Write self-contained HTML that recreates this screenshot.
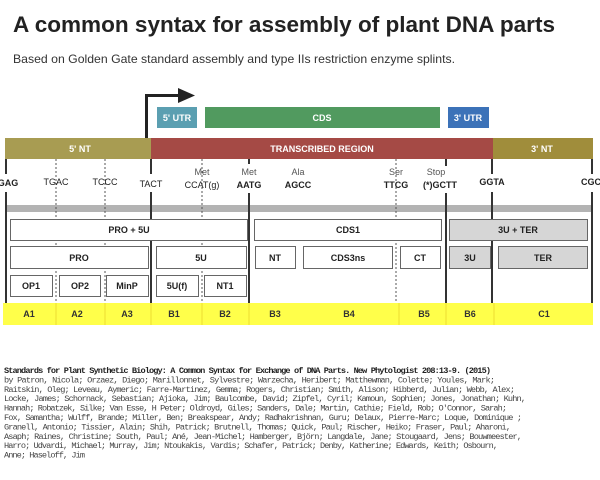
<!DOCTYPE html>
<html><head><meta charset="utf-8"><style>
html,body{margin:0;padding:0;background:#fff;}
svg{display:block;}
</style></head><body>
<svg width="600" height="480" xmlns="http://www.w3.org/2000/svg" font-family="Liberation Sans, sans-serif">
<text x="13" y="32" font-size="22" font-weight="bold" fill="#222" textLength="542" lengthAdjust="spacingAndGlyphs">A common syntax for assembly of plant DNA parts</text>
<text x="13" y="63" font-size="12" fill="#333" textLength="442" lengthAdjust="spacingAndGlyphs">Based on Golden Gate standard assembly and type IIs restriction enzyme splints.</text>

<path d="M146.5 138 V95.5 H182" stroke="#222" stroke-width="3" fill="none"/>
<polygon points="178,88 195,95.5 178,103" fill="#222"/>

<rect x="157" y="107" width="40" height="21" fill="#5b9fb1"/>
<text x="177" y="121" font-size="9" fill="#fff" text-anchor="middle" font-weight="bold">5' UTR</text>
<rect x="205" y="107" width="235" height="21" fill="#519a5f"/>
<text x="322" y="121" font-size="9" fill="#fff" text-anchor="middle" font-weight="bold">CDS</text>
<rect x="448" y="107" width="41" height="21" fill="#3c72b8"/>
<text x="468" y="121" font-size="9" fill="#fff" text-anchor="middle" font-weight="bold">3' UTR</text>

<rect x="5" y="138" width="147" height="21" fill="#a89c52"/>
<rect x="151" y="138" width="342" height="21" fill="#a54a45"/>
<rect x="493" y="138" width="100" height="21" fill="#a08d3b"/>
<text x="80" y="152" font-size="9" fill="#fff" text-anchor="middle" font-weight="bold">5' NT</text>
<text x="322" y="152" font-size="9" fill="#fff" text-anchor="middle" font-weight="bold">TRANSCRIBED REGION</text>
<text x="542" y="152" font-size="9" fill="#fff" text-anchor="middle" font-weight="bold">3' NT</text>

<rect x="6" y="205" width="586" height="7" fill="#b3b3b3"/>

<g stroke="#555" stroke-width="1" stroke-dasharray="2,2">
<line x1="56" y1="159" x2="56" y2="303"/><line x1="105" y1="159" x2="105" y2="303"/>
<line x1="202" y1="159" x2="202" y2="303"/><line x1="396" y1="159" x2="396" y2="303"/>
</g>
<g stroke="#333" stroke-width="2">
<line x1="6" y1="159" x2="6" y2="174"/><line x1="6" y1="192" x2="6" y2="303"/>
<line x1="151" y1="159" x2="151" y2="174"/><line x1="151" y1="192" x2="151" y2="303"/>
<line x1="249" y1="159" x2="249" y2="164"/><line x1="249" y1="193" x2="249" y2="303"/>
<line x1="446" y1="159" x2="446" y2="166"/><line x1="446" y1="193" x2="446" y2="303"/>
<line x1="492" y1="159" x2="492" y2="174"/><line x1="492" y1="192" x2="492" y2="303"/>
<line x1="592" y1="159" x2="592" y2="174"/><line x1="592" y1="192" x2="592" y2="303"/>
</g>

<g font-size="9" fill="#222" text-anchor="middle">
<text x="8" y="186" font-weight="bold">GAG</text>
<text x="56" y="185">TGAC</text>
<text x="105" y="185">TCCC</text>
<text x="151" y="187">TACT</text>
<text x="202" y="175" fill="#555">Met</text><text x="202" y="188">CCAT(g)</text>
<text x="249" y="175" fill="#555">Met</text><text x="249" y="188" font-weight="bold">AATG</text>
<text x="298" y="175" fill="#555">Ala</text><text x="298" y="188" font-weight="bold">AGCC</text>
<text x="396" y="175" fill="#555">Ser</text><text x="396" y="188" font-weight="bold">TTCG</text>
<text x="436" y="175" fill="#555">Stop</text><text x="440" y="188" font-weight="bold">(*)GCTT</text>
<text x="492" y="185" font-weight="bold">GGTA</text>
<text x="591" y="185" font-weight="bold">CGC</text>
</g>

<g stroke="#666" stroke-width="1">
<rect x="10.5" y="219.5" width="237" height="21" fill="#fff"/>
<rect x="254.5" y="219.5" width="187" height="21" fill="#fff"/>
<rect x="449.5" y="219.5" width="138" height="21" fill="#d6d6d6"/>
<rect x="10.5" y="246.5" width="138" height="22" fill="#fff"/>
<rect x="156.5" y="246.5" width="90" height="22" fill="#fff"/>
<rect x="255.5" y="246.5" width="40" height="22" fill="#fff"/>
<rect x="303.5" y="246.5" width="89" height="22" fill="#fff"/>
<rect x="400.5" y="246.5" width="40" height="22" fill="#fff"/>
<rect x="449.5" y="246.5" width="41" height="22" fill="#d6d6d6"/>
<rect x="498.5" y="246.5" width="89" height="22" fill="#d6d6d6"/>
<rect x="10.5" y="275.5" width="42" height="21" fill="#fff"/>
<rect x="59.5" y="275.5" width="41" height="21" fill="#fff"/>
<rect x="106.5" y="275.5" width="42" height="21" fill="#fff"/>
<rect x="156.5" y="275.5" width="42" height="21" fill="#fff"/>
<rect x="204.5" y="275.5" width="42" height="21" fill="#fff"/>
</g>
<g font-size="9" fill="#222" text-anchor="middle" font-weight="bold">
<text x="129" y="233">PRO + 5U</text><text x="348" y="233">CDS1</text><text x="518" y="233">3U + TER</text>
<text x="79" y="261">PRO</text><text x="201" y="261">5U</text><text x="275" y="261">NT</text>
<text x="348" y="261">CDS3ns</text><text x="420" y="261">CT</text><text x="470" y="261">3U</text><text x="543" y="261">TER</text>
<text x="31" y="289">OP1</text><text x="80" y="289">OP2</text><text x="127" y="289">MinP</text>
<text x="177" y="289">5U(f)</text><text x="225" y="289">NT1</text>
</g>

<rect x="3" y="303" width="590" height="22" fill="#ffff4a"/>
<g stroke="#eedd33" stroke-width="1"><line x1="56" y1="303" x2="56" y2="325"/><line x1="105" y1="303" x2="105" y2="325"/><line x1="151" y1="303" x2="151" y2="325"/><line x1="202" y1="303" x2="202" y2="325"/><line x1="249" y1="303" x2="249" y2="325"/><line x1="399" y1="303" x2="399" y2="325"/><line x1="446" y1="303" x2="446" y2="325"/><line x1="494" y1="303" x2="494" y2="325"/></g>
<g font-size="9" fill="#333" text-anchor="middle" font-weight="bold">
<text x="29" y="317">A1</text><text x="77" y="317">A2</text><text x="127" y="317">A3</text>
<text x="174" y="317">B1</text><text x="225" y="317">B2</text><text x="275" y="317">B3</text>
<text x="349" y="317">B4</text><text x="424" y="317">B5</text><text x="470" y="317">B6</text><text x="544" y="317">C1</text>
</g>

<g font-family="Liberation Mono, monospace" font-size="8.6" fill="#444" lengthAdjust="spacingAndGlyphs">
<text x="4" y="373" font-weight="bold" fill="#222" textLength="487">Standards for Plant Synthetic Biology: A Common Syntax for Exchange of DNA Parts. New Phytologist 208:13-9. (2015)</text>
<text x="4" y="382.4" textLength="491">by Patron, Nicola; Orzaez, Diego; Marillonnet, Sylvestre; Warzecha, Heribert; Matthewman, Colette; Youles, Mark;</text>
<text x="4" y="391.8" textLength="511">Raitskin, Oleg; Leveau, Aymeric; Farre-Martinez, Gemma; Rogers, Christian; Smith, Alison; Hibberd, Julian; Webb, Alex;</text>
<text x="4" y="401.2" textLength="522">Locke, James; Schornack, Sebastian; Ajioka, Jim; Baulcombe, David; Zipfel, Cyril; Kamoun, Sophien; Jones, Jonathan; Kuhn,</text>
<text x="4" y="410.6" textLength="503">Hannah; Robatzek, Silke; Van Esse, H Peter; Oldroyd, Giles; Sanders, Dale; Martin, Cathie; Field, Rob; O'Connor, Sarah;</text>
<text x="4" y="420" textLength="518">Fox, Samantha; Wulff, Brande; Miller, Ben; Breakspear, Andy; Radhakrishnan, Guru; Delaux, Pierre-Marc; Loque, Dominique ;</text>
<text x="4" y="429.4" textLength="507">Granell, Antonio; Tissier, Alain; Shih, Patrick; Brutnell, Thomas; Quick, Paul; Rischer, Heiko; Fraser, Paul; Aharoni,</text>
<text x="4" y="438.8" textLength="518">Asaph; Raines, Christine; South, Paul; Ané, Jean-Michel; Hamberger, Björn; Langdale, Jane; Stougaard, Jens; Bouwmeester,</text>
<text x="4" y="448.2" textLength="494">Harro; Udvardi, Michael; Murray, Jim; Ntoukakis, Vardis; Schafer, Patrick; Denby, Katherine; Edwards, Keith; Osbourn,</text>
<text x="4" y="457.6" textLength="81">Anne; Haseloff, Jim</text>
</g>
</svg>
</body></html>
